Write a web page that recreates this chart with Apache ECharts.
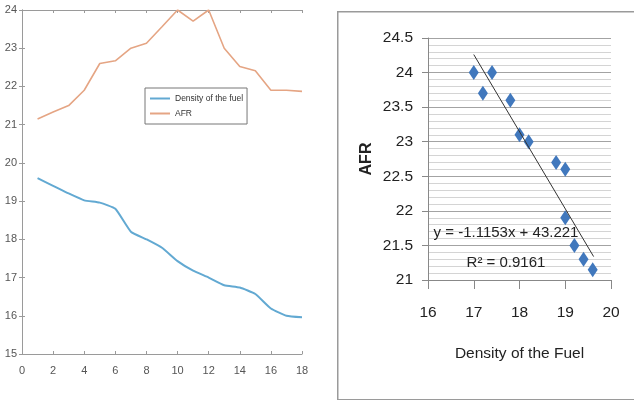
<!DOCTYPE html>
<html>
<head>
<meta charset="utf-8">
<script src="https://cdn.jsdelivr.net/npm/echarts@6/dist/echarts.min.js"></script>
<style>
html, body { margin: 0; padding: 0; background: #fff; }
#main { width: 634px; height: 400px; }
</style>
</head>
<body>
<div id="main"></div>
<script>
// left panel: run number vs density / AFR
var runs = [1, 2, 3, 4, 5, 6, 7, 8, 9, 10, 11, 12, 13, 14, 15, 16, 17, 18];
var density = [19.6, 19.4, 19.2, 19.02, 18.96, 18.8, 18.2, 18.0, 17.78, 17.43, 17.18, 17.0, 16.8, 16.74, 16.57, 16.19, 16.0, 15.96];
var afr = [21.15, 21.33, 21.5, 21.9, 22.6, 22.67, 23.0, 23.13, 23.56, 24.0, 23.71, 24.0, 23.0, 22.52, 22.41, 21.9, 21.9, 21.87];

// right panel: scatter of AFR vs density with linear trend
var scatterDensity = [17.0, 17.2, 17.4, 17.8, 18.0, 18.2, 18.8, 19.0, 19.0, 19.2, 19.4, 19.6];
var scatterAfr = [24.0, 23.7, 24.0, 23.6, 23.1, 23.0, 22.7, 22.6, 21.9, 21.5, 21.3, 21.15];
var slope = -1.1153;
var intercept = 43.221;
var trendX = [17.0, 19.62];

var sans = "'Liberation Sans', Arial, sans-serif";
var lineColors = ['#62a9d2', '#e5a584'];

function pairs(xs, ys) {
	var out = [];
	for (var i = 0; i < xs.length; i++) out.push([xs[i], ys[i]]);
	return out;
}

var trendData = trendX.map(function(x) { return [x, slope * x + intercept]; });

var boxAxis = { lineStyle: { color: '#9a9a9a', width: 1 } };
var boxTick = { show: true, inside: true, length: 3, lineStyle: { color: '#9a9a9a' } };
var leftLabel = { color: '#555', fontSize: 11, fontFamily: sans };

var chart = echarts.init(document.getElementById('main'));
chart.setOption({
	animation: false,
	backgroundColor: '#fff',
	color: lineColors,
	grid: [
		{ left: 22, top: 10, width: 280, height: 344, show: false },
		{ left: 428, top: 38, width: 183, height: 242, show: false }
	],
	legend: {
		data: ['Density of the fuel', 'AFR'],
		orient: 'vertical',
		left: 145,
		top: 88,
		backgroundColor: '#fff',
		borderColor: '#777',
		borderWidth: 1,
		borderRadius: 0,
		padding: [6, 4, 6, 5],
		itemGap: 6,
		itemWidth: 20,
		itemHeight: 2,
		itemTextGap: 3,
		icon: 'rect',
		textStyle: { fontSize: 8.5, color: '#333', fontFamily: sans }
	},
	xAxis: [
		{ gridIndex: 0, type: 'value', min: 0, max: 18, interval: 2, position: 'bottom',
			axisLine: boxAxis, axisTick: boxTick, splitLine: { show: false },
			axisLabel: Object.assign({ margin: 11 }, leftLabel) },
		{ gridIndex: 0, type: 'value', min: 0, max: 18, interval: 2, position: 'top',
			axisLine: boxAxis, axisTick: boxTick, splitLine: { show: false },
			axisLabel: { show: false } },
		{ gridIndex: 1, type: 'value', min: 16, max: 20, interval: 1,
			name: 'Density of the Fuel', nameLocation: 'middle', nameGap: 66,
			nameTextStyle: { fontSize: 15.5, color: '#222', fontFamily: sans },
			axisLine: { lineStyle: { color: '#888' } },
			axisTick: { show: true, length: 9, lineStyle: { color: '#888' } },
			splitLine: { show: false },
			axisLabel: { margin: 25, fontSize: 15.5, color: '#222', fontFamily: sans } }
	],
	yAxis: [
		{ gridIndex: 0, type: 'value', min: 15, max: 24, interval: 1, position: 'left',
			axisLine: Object.assign({ show: true }, boxAxis), axisTick: boxTick, splitLine: { show: false },
			axisLabel: Object.assign({ margin: 5 }, leftLabel) },
		{ gridIndex: 0, type: 'value', min: 15, max: 24, interval: 1, position: 'right',
			axisLine: Object.assign({ show: true }, boxAxis), axisTick: boxTick, splitLine: { show: false },
			axisLabel: { show: false } },
		{ gridIndex: 1, type: 'value', min: 21, max: 24.5, interval: 0.5,
			name: 'AFR', nameLocation: 'middle', nameGap: 53, nameRotate: 90,
			nameTextStyle: { fontSize: 16, fontWeight: 'bold', color: '#222', fontFamily: sans },
			axisLine: { show: true, lineStyle: { color: '#888' } },
			axisTick: { show: true, length: 6, lineStyle: { color: '#888' } },
			minorTick: { show: false, splitNumber: 5 },
			splitLine: { show: true, lineStyle: { color: '#a3a3a3', width: 1 } },
			minorSplitLine: { show: true, lineStyle: { color: '#d4d4d4', width: 1 } },
			axisLabel: { margin: 15, fontSize: 15.5, color: '#222', fontFamily: sans } }
	],
	graphic: [
		{ type: 'rect', left: 337, top: 11, z: -10, silent: true,
			shape: { width: 310, height: 388 },
			style: { fill: '#fff', stroke: '#9a9a9a', lineWidth: 1.5 } },
		{ type: 'text', x: 506, y: 233, z: 100,
			style: { text: 'y = -1.1153x + 43.221', fill: '#222', fontSize: 15, fontFamily: sans,
				align: 'center', verticalAlign: 'middle' } },
		{ type: 'text', x: 506, y: 263, z: 100,
			style: { text: 'R² = 0.9161', fill: '#222', fontSize: 15, fontFamily: sans,
				align: 'center', verticalAlign: 'middle' } }
	],
	series: [
		{ name: 'Density of the fuel', type: 'line', xAxisIndex: 0, yAxisIndex: 0,
			data: pairs(runs, density), showSymbol: false, smooth: 0.15,
			lineStyle: { width: 2, color: lineColors[0] }, itemStyle: { color: lineColors[0] } },
		{ name: 'AFR', type: 'line', xAxisIndex: 0, yAxisIndex: 0,
			data: pairs(runs, afr), showSymbol: false,
			lineStyle: { width: 1.6, color: lineColors[1] }, itemStyle: { color: lineColors[1] } },
		{ name: 'points', type: 'scatter', xAxisIndex: 2, yAxisIndex: 2,
			data: pairs(scatterDensity, scatterAfr), symbol: 'diamond', symbolSize: [10, 15],
			itemStyle: { color: '#4178bd', opacity: 1 } },
		{ name: 'trend', type: 'line', xAxisIndex: 2, yAxisIndex: 2, z: 5,
			data: trendData, showSymbol: false,
			lineStyle: { width: 1, color: '#333' } }
	]
});
</script>
</body>
</html>
